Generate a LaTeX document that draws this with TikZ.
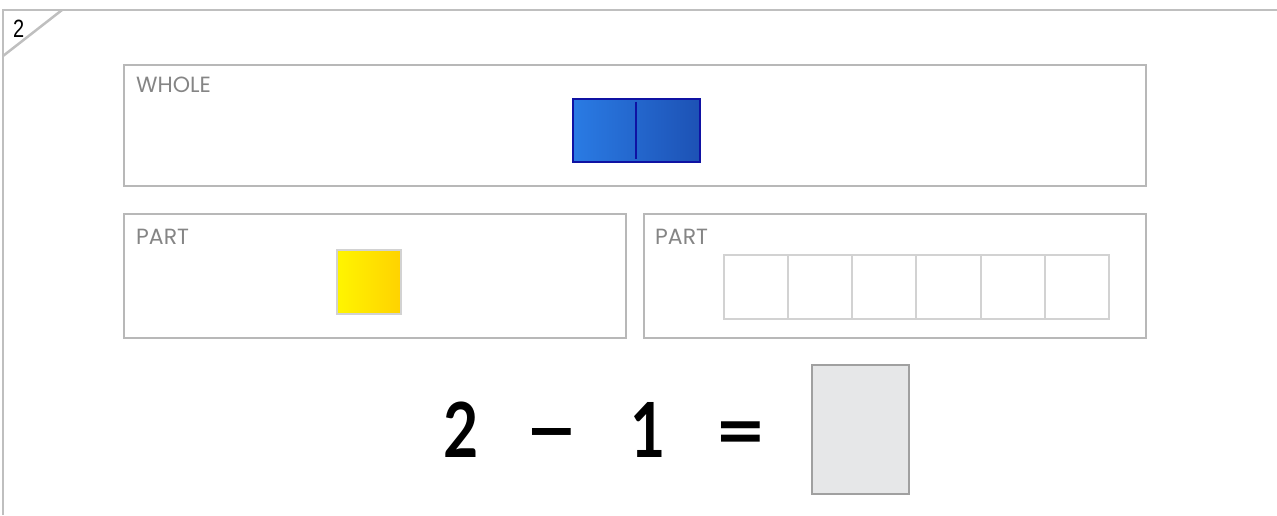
\documentclass[tikz,border=0pt]{standalone}
\usepackage{fontspec}
\newfontfamily\lblfont{Poppins}
\newfontfamily\eqfont[FakeStretch=0.8]{Lato}
\newfontfamily\opfont[FakeStretch=1.15]{Lato}
\newfontfamily\numfont[FakeStretch=0.8]{Liberation Sans}
\definecolor{framegray}{HTML}{BFBFBF}
\definecolor{boxgray}{HTML}{B8B8B8}
\definecolor{lblgray}{HTML}{858585}
\definecolor{cellgray}{HTML}{D2D2D2}
\definecolor{blueA}{HTML}{2A7BE4}
\definecolor{blueB}{HTML}{1D52B5}
\definecolor{blueEdge}{HTML}{0F12A3}
\definecolor{yelA}{HTML}{FFF500}
\definecolor{yelB}{HTML}{FFD200}
\definecolor{ansfill}{HTML}{E6E7E8}
\definecolor{ansedge}{HTML}{A0A0A0}
\tikzset{
  panel/.style={draw=boxgray, line width=2pt},
  lbl/.style={font=\lblfont\fontsize{22}{24}\selectfont, text=lblgray, anchor=base west, inner sep=0pt},
  eq/.style={font=\eqfont\bfseries\fontsize{76}{80}\selectfont, inner sep=0pt, anchor=base},
  op/.style={font=\opfont\bfseries\fontsize{76}{80}\selectfont, inner sep=0pt, anchor=base},
  cell/.style={draw=cellgray, line width=2pt, fill=white}
}
\begin{document}
\begin{tikzpicture}[x=1pt,y=-1pt]
\useasboundingbox (0,0) rectangle (1277,515);
% outer frame with corner tab
\draw[framegray, line width=2.5pt] (3,515) -- (3,10) -- (1277,10);
\draw[framegray, line width=2.5pt] (62,10) -- (3,56);
\node[font=\numfont\fontsize{25}{27}\selectfont, anchor=base west, inner sep=0pt] (tabnum) at (13,37) {2};
% WHOLE panel
\node[panel, minimum width=1022pt, minimum height=121pt, inner sep=0pt, anchor=north west] (whole) at (123,64) {};
\node[lbl] (wholelbl) at (136,92) {WHOLE};
\node[draw=blueEdge, line width=2pt, shading=axis, left color=blueA, right color=blueB, shading angle=90, minimum width=127pt, minimum height=63pt, inner sep=0pt, anchor=north west] (bar) at (571.5,97.5) {};
\draw[blueEdge, line width=2pt] ([yshift=-4pt]bar.north) -- ([yshift=4pt]bar.south);
% PART panels
\node[panel, minimum width=502pt, minimum height=124pt, inner sep=0pt, anchor=north west] (partA) at (123,213) {};
\node[lbl] (partAlbl) at (136,244) {PART};
\node[draw=cellgray, line width=2pt, shading=axis, left color=yelA, right color=yelB, shading angle=90, minimum width=64pt, minimum height=64pt, inner sep=0pt, anchor=north west] (unit) at (336,249) {};
\node[panel, minimum width=502pt, minimum height=124pt, inner sep=0pt, anchor=north west] (partB) at (643,213) {};
\node[lbl] (partBlbl) at (655,244) {PART};
\foreach \i in {0,...,5} {
  \node[cell, minimum width=64.3pt, minimum height=64pt, inner sep=0pt, anchor=north west] (c\i) at (722.5+64.3*\i,253.5) {};
}
% equation
\node[eq] (n2) at (461,457) {2};
\node[op] (minus) at (552,457) {−};
\node[eq] (n1) at (648,457) {1};
\node[op] (eqs) at (741,457) {=};
\node[draw=ansedge, fill=ansfill, line width=2pt, minimum width=97pt, minimum height=129pt, inner sep=0pt, anchor=north west] (ans) at (810.5,363.5) {};
\end{tikzpicture}
\end{document}
